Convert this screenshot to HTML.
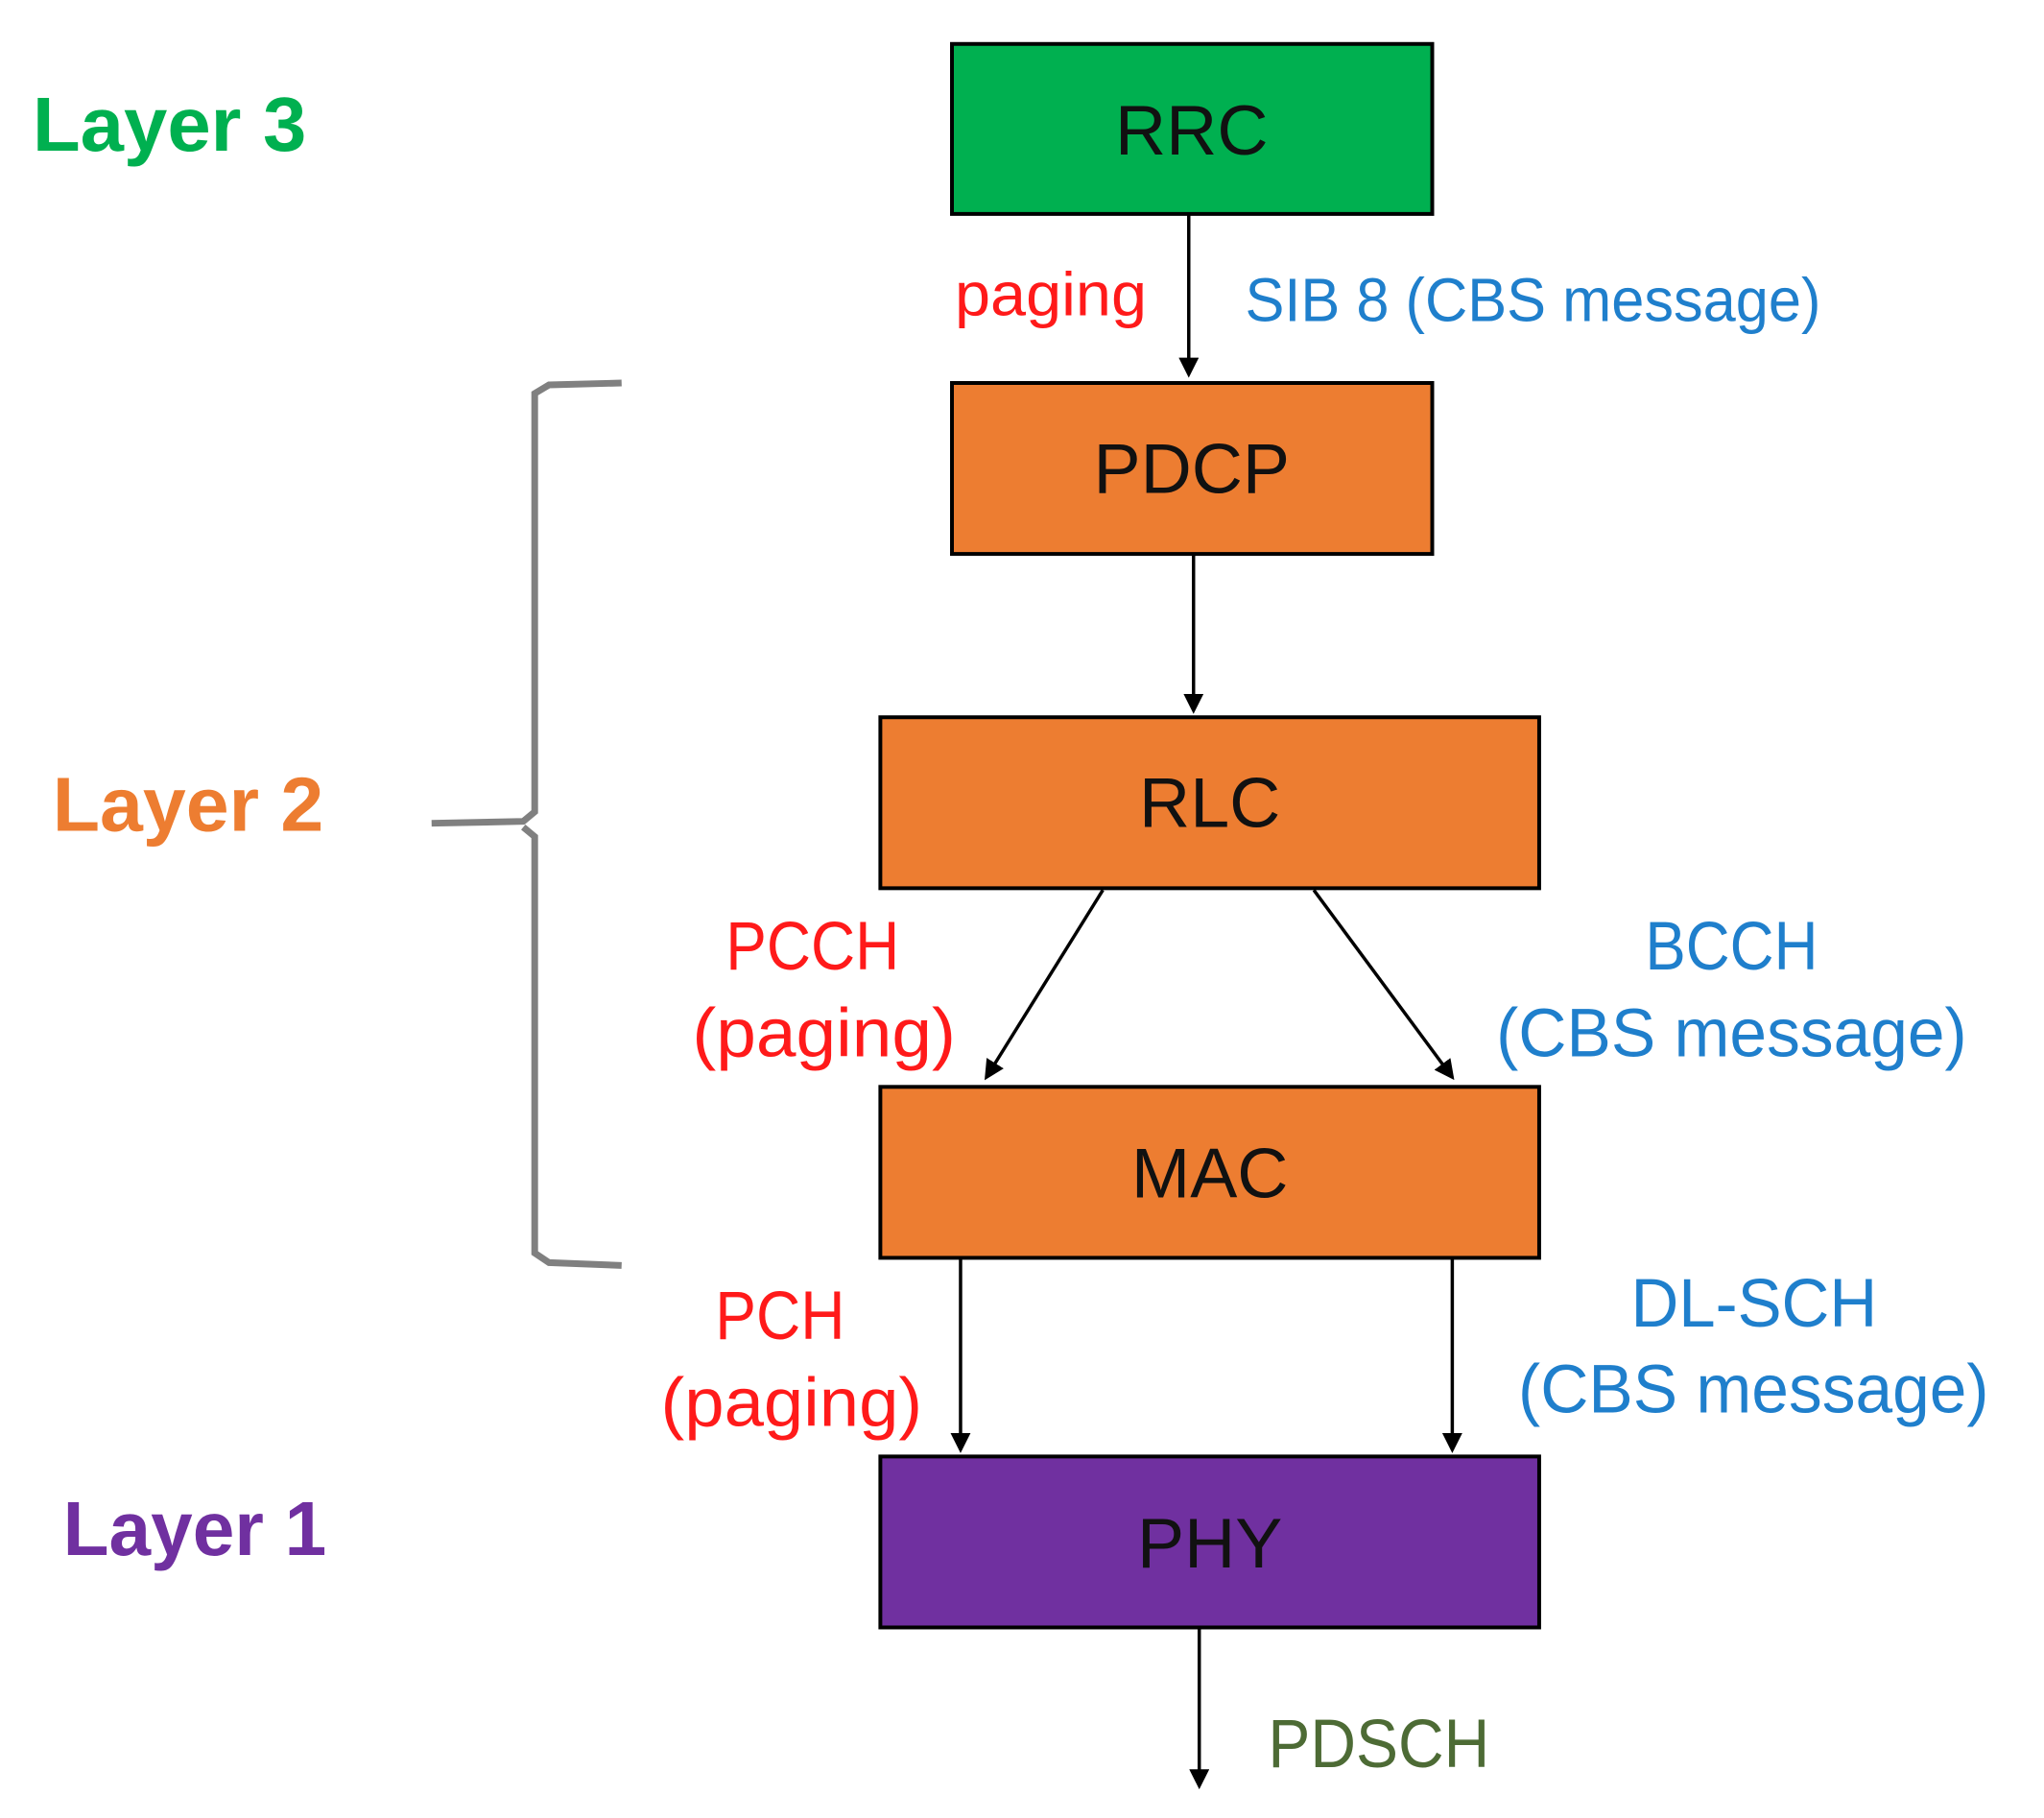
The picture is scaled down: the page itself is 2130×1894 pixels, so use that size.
<!DOCTYPE html>
<html><head><meta charset="utf-8"><style>
html,body{margin:0;padding:0;background:#fff;}
svg{display:block;}
text{font-family:"Liberation Sans",sans-serif;}
</style></head><body>
<svg width="2130" height="1894" viewBox="0 0 2130 1894" xmlns="http://www.w3.org/2000/svg">
<defs>
<marker id="ah" markerWidth="6" markerHeight="6" refX="5" refY="3" orient="auto" markerUnits="strokeWidth">
<path d="M0,0 L6,3 L0,6 z" fill="#000"/>
</marker>
</defs>
<g transform="scale(0.995)">
<!-- boxes -->
<rect x="997" y="46" width="503" height="178" fill="#00b050" stroke="#000" stroke-width="4"/>
<rect x="997" y="401" width="503" height="179" fill="#ed7d31" stroke="#000" stroke-width="4"/>
<rect x="922" y="751" width="690" height="179" fill="#ed7d31" stroke="#000" stroke-width="4"/>
<rect x="922" y="1138" width="690" height="179" fill="#ed7d31" stroke="#000" stroke-width="4"/>
<rect x="922" y="1525" width="690" height="179" fill="#7030a0" stroke="#000" stroke-width="4"/>
<g font-size="74" fill="#111" text-anchor="middle">
<text x="1248" y="162">RRC</text>
<text x="1248" y="516">PDCP</text>
<text x="1267" y="866">RLC</text>
<text x="1267" y="1254">MAC</text>
<text x="1267" y="1641">PHY</text>
</g>
<!-- arrows -->
<g stroke="#000" stroke-width="3.5" fill="none" marker-end="url(#ah)">
<line x1="1245" y1="224" x2="1245" y2="392"/>
<line x1="1250" y1="580" x2="1250" y2="744"/>
<line x1="1155" y1="932" x2="1033" y2="1128"/>
<line x1="1376" y1="932" x2="1521" y2="1128"/>
<line x1="1006" y1="1317" x2="1006" y2="1518"/>
<line x1="1521" y1="1317" x2="1521" y2="1518"/>
<line x1="1256" y1="1704" x2="1256" y2="1870"/>
</g>
<!-- brace -->
<path d="M651,401 L575,403 L560,412 L560,850 L548,860 L452,862 M548,866 L560,876 L560,1312 L575,1322 L651,1325" stroke="#808080" stroke-width="7" fill="none"/>
<!-- layer labels -->
<text x="34" y="158" font-size="80" font-weight="bold" fill="#00b050" textLength="287" lengthAdjust="spacingAndGlyphs">Layer 3</text>
<text x="55" y="870" font-size="80" font-weight="bold" fill="#ed7d31" textLength="284" lengthAdjust="spacingAndGlyphs">Layer 2</text>
<text x="66" y="1628" font-size="80" font-weight="bold" fill="#7030a0" textLength="276" lengthAdjust="spacingAndGlyphs">Layer 1</text>
<!-- channel labels -->
<g font-size="64">
<text x="1000" y="330" fill="#ff1a1a" textLength="201" lengthAdjust="spacingAndGlyphs">paging</text>
<text x="1304" y="336" fill="#1f7fcc" textLength="603" lengthAdjust="spacingAndGlyphs">SIB 8 (CBS message)</text>
<text x="760" y="1015" fill="#ff1a1a" font-size="72" textLength="182" lengthAdjust="spacingAndGlyphs">PCCH</text>
<text x="725" y="1106" fill="#ff1a1a" font-size="72" textLength="276" lengthAdjust="spacingAndGlyphs">(paging)</text>
<text x="1723" y="1015" fill="#1f7fcc" font-size="72" textLength="181" lengthAdjust="spacingAndGlyphs">BCCH</text>
<text x="1567" y="1106" fill="#1f7fcc" font-size="72" textLength="493" lengthAdjust="spacingAndGlyphs">(CBS message)</text>
<text x="749" y="1402" fill="#ff1a1a" font-size="72" textLength="136" lengthAdjust="spacingAndGlyphs">PCH</text>
<text x="692" y="1493" fill="#ff1a1a" font-size="72" textLength="274" lengthAdjust="spacingAndGlyphs">(paging)</text>
<text x="1708" y="1389" fill="#1f7fcc" font-size="72" textLength="258" lengthAdjust="spacingAndGlyphs">DL-SCH</text>
<text x="1590" y="1479" fill="#1f7fcc" font-size="72" textLength="493" lengthAdjust="spacingAndGlyphs">(CBS message)</text>
<text x="1328" y="1850" fill="#4d6b35" font-size="72" textLength="232" lengthAdjust="spacingAndGlyphs">PDSCH</text>
</g>
</g>
</svg>
</body></html>
